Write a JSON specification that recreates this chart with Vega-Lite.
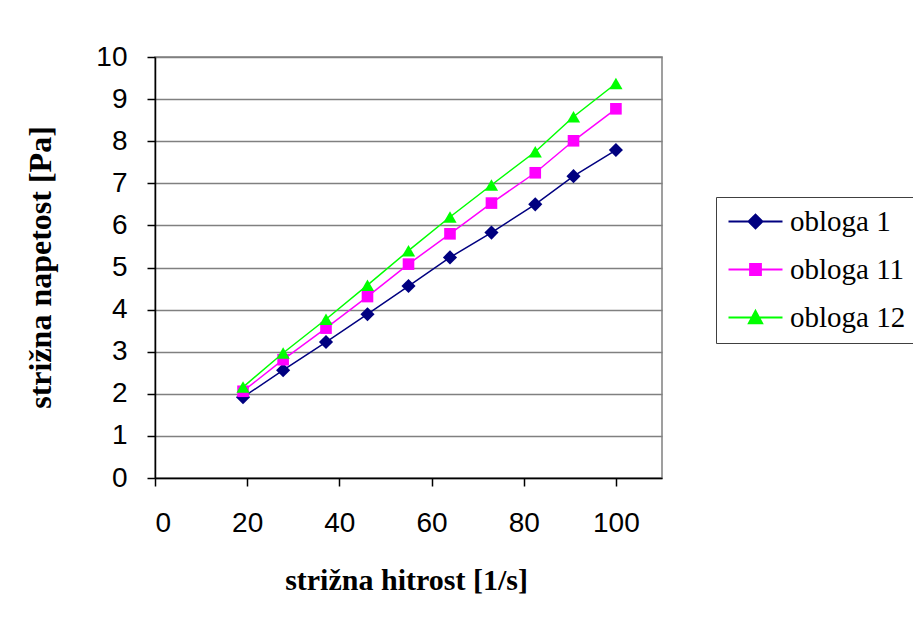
{
  "$schema": "https://vega.github.io/schema/vega-lite/v6.json",
  "width": 507,
  "height": 421,
  "autosize": {"type": "none"},
  "padding": {"left": 155, "top": 57, "right": 251, "bottom": 144},
  "background": "white",
  "config": {
    "view": {"stroke": "#808080", "strokeWidth": 1.5},
    "axis": {
      "labelFont": "Liberation Sans",
      "labelFontSize": 28,
      "labelColor": "black",
      "titleFont": "Liberation Serif",
      "titleFontWeight": "bold",
      "titleFontSize": 30,
      "titleColor": "black",
      "domainColor": "black",
      "domainWidth": 1.5,
      "tickColor": "black",
      "tickWidth": 1.5,
      "tickSize": 8,
      "gridColor": "#808080",
      "gridWidth": 1.5,
      "gridOpacity": 1
    },
    "legend": {
      "orient": "none",
      "legendX": 561,
      "legendY": 140,
      "direction": "vertical",
      "strokeColor": "#404040",
      "fillColor": "white",
      "padding": 10,
      "labelFont": "Liberation Serif",
      "labelFontSize": 29,
      "labelColor": "black",
      "labelLimit": 300,
      "labelOffset": 20,
      "symbolOffset": 15,
      "rowPadding": 18,
      "symbolStrokeWidth": 1.5
    }
  },
  "data": {
    "values": [
      {"x": 19.1, "y": 1.92, "series": "obloga 1"},
      {"x": 27.8, "y": 2.56, "series": "obloga 1"},
      {"x": 37.1, "y": 3.23, "series": "obloga 1"},
      {"x": 46.1, "y": 3.89, "series": "obloga 1"},
      {"x": 55.0, "y": 4.56, "series": "obloga 1"},
      {"x": 64.0, "y": 5.24, "series": "obloga 1"},
      {"x": 73.0, "y": 5.83, "series": "obloga 1"},
      {"x": 82.5, "y": 6.50, "series": "obloga 1"},
      {"x": 90.8, "y": 7.17, "series": "obloga 1"},
      {"x": 100.0, "y": 7.79, "series": "obloga 1"},
      {"x": 19.1, "y": 2.06, "series": "obloga 11"},
      {"x": 27.8, "y": 2.81, "series": "obloga 11"},
      {"x": 37.1, "y": 3.56, "series": "obloga 11"},
      {"x": 46.1, "y": 4.31, "series": "obloga 11"},
      {"x": 55.0, "y": 5.08, "series": "obloga 11"},
      {"x": 64.0, "y": 5.80, "series": "obloga 11"},
      {"x": 73.0, "y": 6.53, "series": "obloga 11"},
      {"x": 82.5, "y": 7.25, "series": "obloga 11"},
      {"x": 90.8, "y": 8.01, "series": "obloga 11"},
      {"x": 100.0, "y": 8.77, "series": "obloga 11"},
      {"x": 19.1, "y": 2.16, "series": "obloga 12"},
      {"x": 27.8, "y": 2.97, "series": "obloga 12"},
      {"x": 37.1, "y": 3.77, "series": "obloga 12"},
      {"x": 46.1, "y": 4.58, "series": "obloga 12"},
      {"x": 55.0, "y": 5.40, "series": "obloga 12"},
      {"x": 64.0, "y": 6.20, "series": "obloga 12"},
      {"x": 73.0, "y": 6.96, "series": "obloga 12"},
      {"x": 82.5, "y": 7.75, "series": "obloga 12"},
      {"x": 90.8, "y": 8.58, "series": "obloga 12"},
      {"x": 100.0, "y": 9.37, "series": "obloga 12"}
    ]
  },
  "encoding": {
    "x": {
      "field": "x",
      "type": "quantitative",
      "scale": {"domain": [0, 110], "nice": false, "zero": true},
      "axis": {
        "values": [0, 20, 40, 60, 80, 100],
        "grid": false,
        "labelPadding": 23,
        "labelBaseline": "top",
        "title": "strižna hitrost [1/s]",
        "titleX": 251,
        "titleY": 111,
        "titleAlign": "center",
        "titleBaseline": "alphabetic"
      }
    },
    "y": {
      "field": "y",
      "type": "quantitative",
      "scale": {"domain": [0, 10], "nice": false},
      "axis": {
        "values": [0, 1, 2, 3, 4, 5, 6, 7, 8, 9, 10],
        "grid": true,
        "labelPadding": 20,
        "labelBaseline": "middle",
        "title": "strižna napetost [Pa]",
        "titleFontSize": 32,
        "titleX": -115,
        "titleY": 210,
        "titleAngle": -90,
        "titleAlign": "center",
        "titleBaseline": "middle"
      }
    },
    "color": {
      "field": "series",
      "type": "nominal",
      "scale": {"domain": ["obloga 1", "obloga 11", "obloga 12"], "range": ["#000080", "#FF00FF", "#00FF00"]},
      "legend": {
        "title": null,
        "encode": {
          "symbols": {
            "update": {
              "shape": {"signal": "datum.value === 'obloga 1' ? 'M-4.5,0H4.5M-1.15,0L0,-1.15L1.15,0L0,1.15Z' : datum.value === 'obloga 11' ? 'M-4.5,0H4.5M-0.9,-0.9H0.9V0.9H-0.9Z' : 'M-4.5,0H4.5M0,-1.1L1.1,0.95H-1.1Z'"},
              "size": {"value": 144},
              "strokeWidth": {"value": 1.5}
            }
          }
        }
      }
    }
  },
  "layer": [
    {
      "mark": {"type": "line", "strokeWidth": 1.5},
      "encoding": {
        "strokeWidth": {
          "field": "series",
          "type": "nominal",
          "scale": {"domain": ["obloga 1", "obloga 11", "obloga 12"], "range": [2, 2, 1]},
          "legend": null
        }
      }
    },
    {
      "transform": [{"filter": "datum.series === 'obloga 1'"}],
      "mark": {"type": "point", "filled": true, "opacity": 1, "shape": "diamond", "size": 200}
    },
    {
      "transform": [{"filter": "datum.series === 'obloga 11'"}],
      "mark": {"type": "point", "filled": true, "opacity": 1, "shape": "square", "size": 135}
    },
    {
      "transform": [{"filter": "datum.series === 'obloga 12'"}],
      "mark": {"type": "point", "filled": true, "opacity": 1, "shape": "triangle-up", "size": 175}
    }
  ]
}
